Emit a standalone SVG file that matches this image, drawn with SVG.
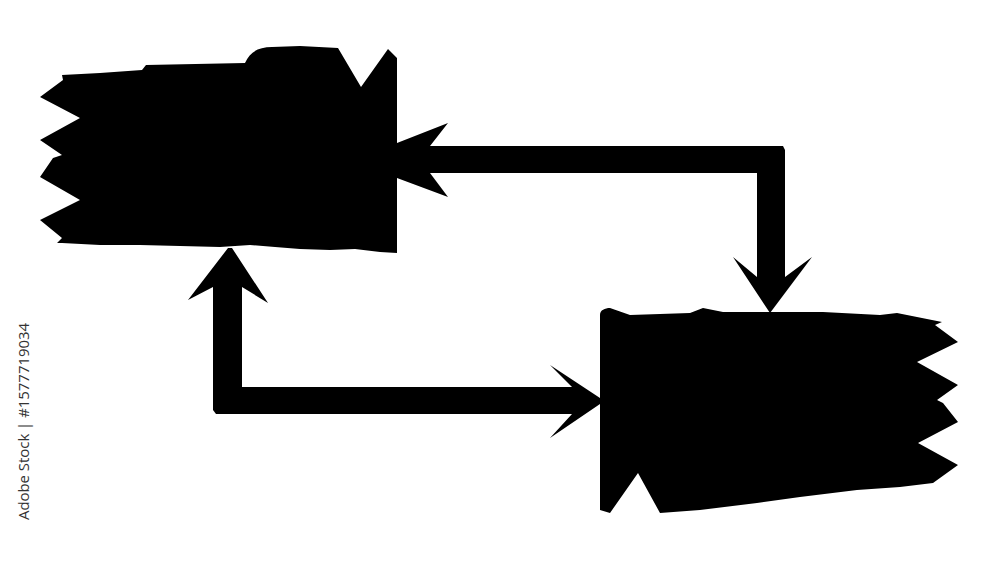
<svg xmlns="http://www.w3.org/2000/svg" width="1000" height="564" viewBox="0 0 1000 564">
  <style>
    .shape { fill: #000; stroke: none; }
    .credit { font-family: "Open Sans", "Liberation Sans", sans-serif; font-size: 15px; fill: #333; }
  </style>
  <rect width="1000" height="564" fill="#fff"/>
  <g id="node-top-left">
    <path class="shape" d="M62,75 L100,73 L142,70 L146,65 L245,63 C250,52 258,47 272,47 L300,46 L338,48 L361,87 L388,49 L397,58 L397,253 L380,252 L355,249 L330,250 L300,249 L275,247 L250,245 L220,247 L180,246 L140,245 L100,245 L62,243 L57,243 L62,238 L40,220 L80,200 L40,177 L53,158 L62,155 L40,140 L80,118 L40,97 L63,80 Z"/>
  </g>
  <g id="node-bottom-right">
    <path class="shape" d="M600,315 C600,310 605,308 610,308 L630,315 L690,313 L703,308 L723,312 L823,312 L880,315 L897,313 L942,322 L935,325 L958,342 L917,362 L958,385 L937,400 L943,403 L958,422 L918,443 L958,465 L933,483 L900,487 L857,490 L800,497 L757,503 L700,510 L660,513 L638,473 L610,513 L600,510 Z"/>
  </g>
  <g id="connectors">
    <path class="shape" d="M430,146 L783,146 L785,150 L785,277 L757,277 L757,173 L430,173 Z"/>
    <polygon class="shape" points="448,123 397,143 397,178 448,197 430,173 430,146"/>
    <polygon class="shape" points="733,257 757,277 785,277 812,257 770,313"/>
    <path class="shape" d="M572,387 L242,387 L242,287 L213,287 L213,410 L216,414 L572,414 Z"/>
    <polygon class="shape" points="550,365 572,387 572,414 550,438 600,404 600,398"/>
    <polygon class="shape" points="188,300 213,287 242,287 268,303 232,248 228,248"/>
  </g>
  <text class="credit" transform="translate(29,323) rotate(-90)" text-anchor="end" textLength="197" lengthAdjust="spacingAndGlyphs">Adobe Stock | #1577719034</text>
</svg>
